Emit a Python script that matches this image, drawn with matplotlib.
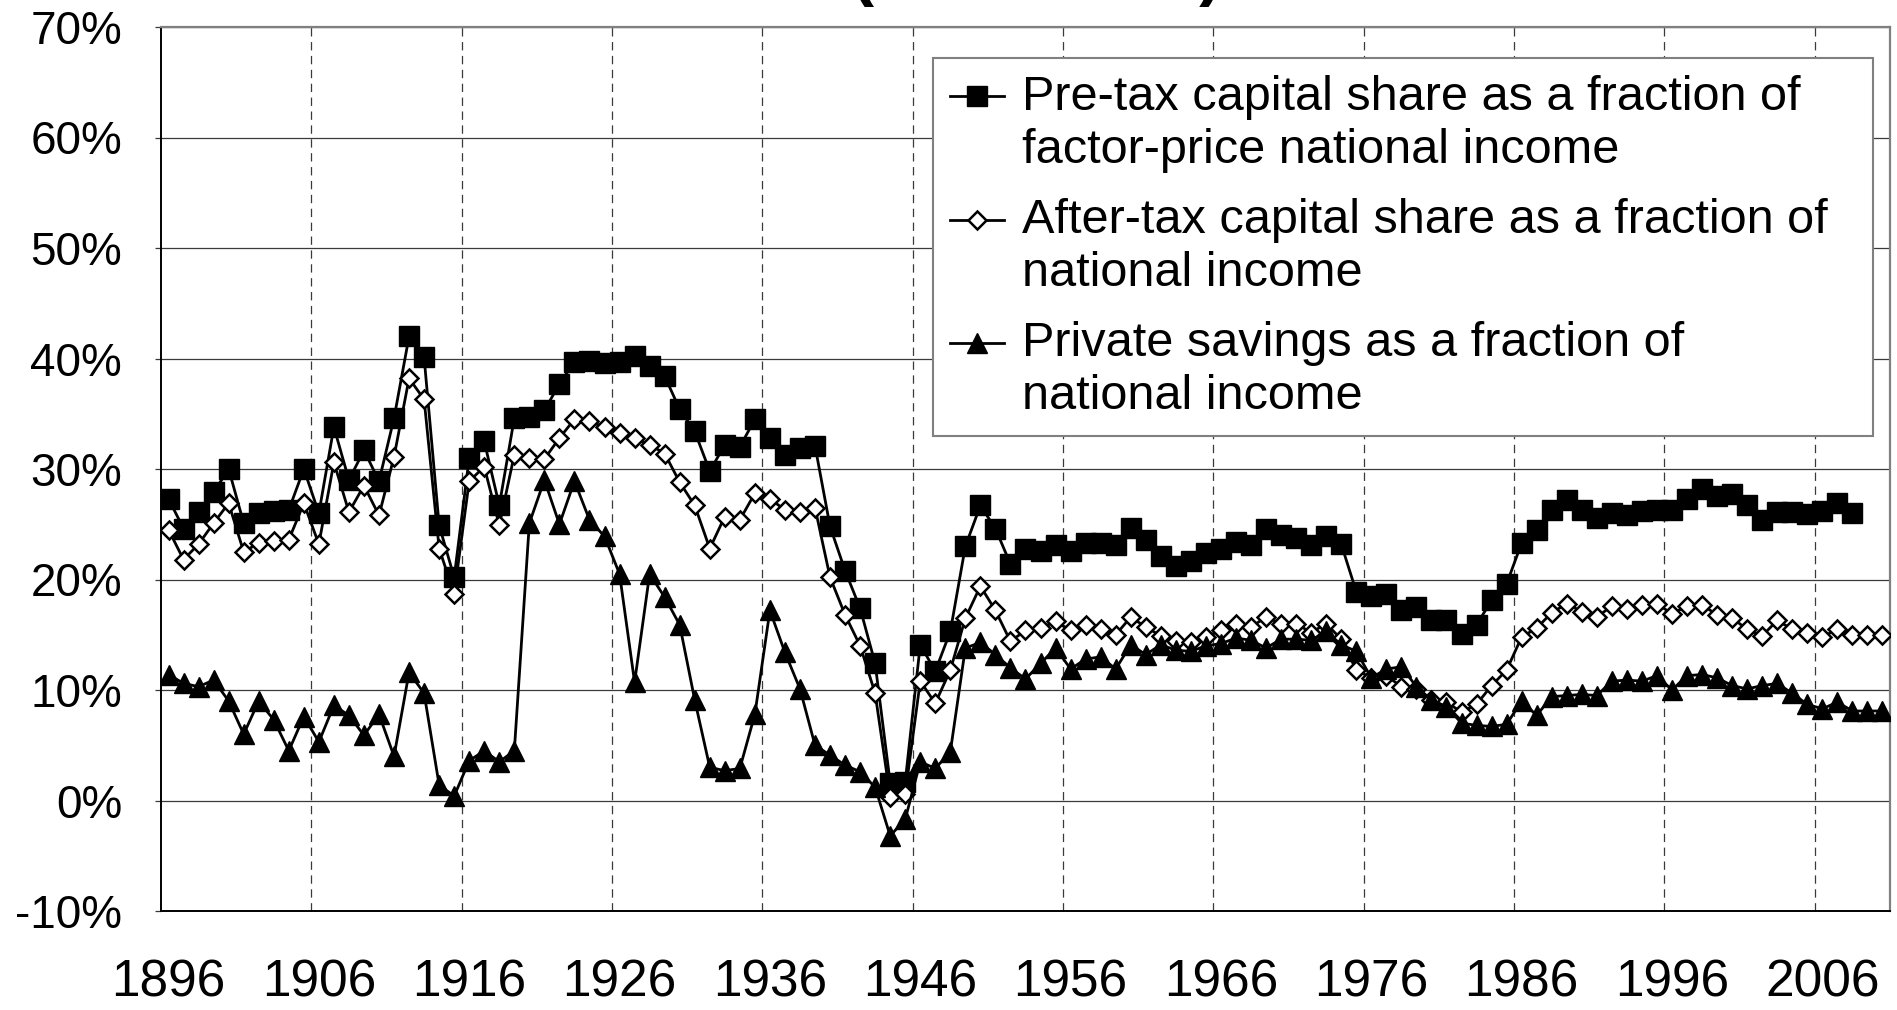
import numpy as np
import matplotlib
matplotlib.use("Agg")
import matplotlib.pyplot as plt
from matplotlib.legend_handler import HandlerLine2D

plt.rcParams['font.family'] = ['Liberation Sans', 'DejaVu Sans']
plt.rcParams['lines.scale_dashes'] = False

# ---------------- data ----------------
years_pretax = list(range(1896, 2009))
years_all = list(range(1896, 2011))

pretax = [27.3, 24.6, 26.1, 27.9, 30.0, 25.1, 26.0, 26.2, 26.3, 30.0,
          26.0, 33.8, 29.0, 31.7, 28.9, 34.6, 42.0, 40.1, 24.9, 20.2,
          31.0, 32.5, 26.7, 34.6, 34.7, 35.3, 37.7, 39.7, 39.8, 39.6,
          39.7, 40.2, 39.3, 38.4, 35.4, 33.4, 29.8, 32.2, 32.0, 34.5,
          32.8, 31.3, 31.9, 32.1, 24.8, 20.8, 17.4, 12.4, 1.6, 1.7,
          14.1, 11.7, 15.3, 23.0, 26.7, 24.6, 21.4, 22.8, 22.6, 23.1,
          22.6, 23.3, 23.3, 23.1, 24.7, 23.6, 22.1, 21.2, 21.7, 22.4,
          22.8, 23.4, 23.1, 24.6, 24.0, 23.8, 23.1, 23.9, 23.2, 18.9,
          18.5, 18.7, 17.2, 17.5, 16.3, 16.3, 15.1, 15.9, 18.1, 19.6,
          23.3, 24.5, 26.3, 27.2, 26.3, 25.6, 26.0, 25.8, 26.2, 26.3,
          26.3, 27.3, 28.2, 27.6, 27.7, 26.7, 25.4, 26.1, 26.1, 25.9,
          26.2, 26.9, 26.0]

aftertax = [24.5, 21.8, 23.2, 25.1, 26.9, 22.5, 23.3, 23.5, 23.6, 26.9,
            23.2, 30.6, 26.1, 28.5, 25.8, 31.1, 38.2, 36.3, 22.8, 18.7,
            28.9, 30.2, 24.9, 31.3, 31.0, 30.9, 32.8, 34.5, 34.3, 33.8,
            33.3, 32.8, 32.2, 31.4, 28.8, 26.7, 22.8, 25.7, 25.4, 27.8,
            27.3, 26.3, 26.1, 26.5, 20.2, 16.8, 14.0, 9.7, 0.3, 0.6,
            10.8, 8.8, 11.8, 16.5, 19.4, 17.2, 14.4, 15.4, 15.6, 16.2,
            15.4, 15.9, 15.5, 15.0, 16.6, 15.7, 14.9, 14.4, 14.3, 14.8,
            15.4, 16.0, 15.7, 16.6, 16.0, 16.0, 15.2, 16.0, 14.6, 11.8,
            11.1, 11.3, 10.3, 10.1, 9.1, 8.9, 8.0, 8.7, 10.4, 11.8,
            14.8, 15.6, 17.0, 17.8, 17.1, 16.6, 17.6, 17.3, 17.7, 17.8,
            16.9, 17.6, 17.7, 16.8, 16.5, 15.5, 14.9, 16.3, 15.5, 15.2,
            14.8, 15.5, 15.0, 15.0, 15.0]

savings = [11.4, 10.6, 10.3, 10.9, 9.0, 6.0, 9.0, 7.3, 4.5, 7.6,
           5.3, 8.6, 7.7, 5.9, 7.8, 4.0, 11.6, 9.7, 1.4, 0.4,
           3.6, 4.5, 3.5, 4.5, 25.1, 29.0, 25.0, 28.9, 25.4, 23.9,
           20.5, 10.7, 20.5, 18.4, 15.9, 9.1, 3.0, 2.7, 2.9, 7.8,
           17.2, 13.4, 10.1, 5.0, 4.1, 3.2, 2.6, 1.2, -3.2, -1.7,
           3.5, 2.9, 4.4, 13.8, 14.3, 13.2, 12.0, 11.0, 12.4, 13.8,
           11.9, 12.8, 13.0, 11.9, 14.1, 13.2, 14.1, 13.6, 13.5, 14.0,
           14.2, 14.7, 14.5, 13.8, 14.6, 14.6, 14.5, 15.3, 14.1, 13.5,
           11.1, 11.9, 12.1, 10.3, 9.1, 8.5, 7.0, 6.8, 6.7, 6.9,
           9.0, 7.7, 9.4, 9.5, 9.6, 9.5, 10.8, 10.9, 10.8, 11.3,
           10.0, 11.3, 11.4, 11.1, 10.4, 10.1, 10.4, 10.6, 9.7, 8.7,
           8.3, 8.9, 8.1, 8.1, 8.1]

xtick_years = list(range(1896, 2007, 10))
ytick_vals = list(range(-10, 71, 10))

labels = ["Pre-tax capital share as a fraction of\nfactor-price national income",
          "After-tax capital share as a fraction of\nnational income",
          "Private savings as a fraction of\nnational income"]
title = "Factor shares in France (1896-2010)"

# ---------------- figure ----------------
W, H = 1897, 1010
fig = plt.figure(figsize=(W / 100, H / 100), dpi=100)
L, R, T, B = 161, 1890, 27, 911
ax = fig.add_axes([L / W, 1 - B / H, (R - L) / W, (B - T) / H])

lw = 2.0
l1, = ax.plot(years_pretax, pretax, color='black', lw=lw, marker='s', ms=14,
              mfc='black', mec='black', mew=1.0, zorder=3)
l2, = ax.plot(years_all, aftertax, color='black', lw=lw, marker='D', ms=9.4,
              mfc='white', mec='black', mew=1.8, zorder=4)
l3, = ax.plot(years_all, savings, color='black', lw=lw, marker='^', ms=15,
              mfc='black', mec='black', mew=1.0, zorder=5)

ax.set_xlim(1895.5, 2010.5)
ax.set_ylim(-10, 70)
ax.set_yticks(ytick_vals)
ax.set_yticklabels([f"{v}%" for v in ytick_vals])
ax.set_xticks(xtick_years)
ax.set_xticklabels([str(y) for y in xtick_years])
ax.set_xticks(np.arange(1905.5, 2006, 10), minor=True)

ax.grid(axis='y', which='major', color='#3a3a3a', lw=0.9, zorder=1)
ax.grid(axis='x', which='minor', color='#3a3a3a', lw=0.9, ls=(0, (6, 4)), zorder=1)
ax.grid(axis='x', which='major', visible=False)
ax.set_axisbelow(True)

ax.tick_params(axis='x', which='both', length=0, labelsize=37, pad=34)
ax.tick_params(axis='y', which='major', length=4, width=0.9, color='#3a3a3a',
               direction='out', labelsize=33, pad=24)
ax.tick_params(axis='y', which='minor', length=0)

for s in ['left', 'bottom']:
    ax.spines[s].set_color('black')
    ax.spines[s].set_linewidth(1.4)
for s in ['top', 'right']:
    ax.spines[s].set_color('#808080')
    ax.spines[s].set_linewidth(1.6)

# title: lies above the canvas, only the lowest few pixels show (as in the reference)
fig.text(1222 / W, (H - 7) / H, title, ha='right', va='bottom',
         fontsize=49, fontweight='bold')

# legend
fs = 35
lsp = 1.23
pitch_pt = 52.5 * 0.72


class FirstLineHandler(HandlerLine2D):
    def __init__(self, shift, **kw):
        super().__init__(**kw)
        self.shift = shift

    def create_artists(self, legend, orig_handle, xdescent, ydescent, width,
                       height, fontsize, trans):
        arts = super().create_artists(legend, orig_handle, xdescent, ydescent,
                                      width, height, fontsize, trans)
        for a in arts:
            a.set_ydata(np.asarray(a.get_ydata(), dtype=float) + self.shift)
        return arts


hmap = {h: FirstLineHandler(0.5 * pitch_pt + 1.0) for h in (l1, l2, l3)}
leg = ax.legend([l1, l2, l3], labels, loc='upper left', mode='expand',
                bbox_to_anchor=(933 / W, 1 - 430 / H, 940 / W, 372 / H),
                bbox_transform=fig.transFigure, fontsize=fs, frameon=True,
                fancybox=False, shadow=False, edgecolor='#808080',
                framealpha=1, borderpad=0.34, handlelength=1.12,
                handletextpad=0.37, labelspacing=0.52, borderaxespad=0,
                handler_map=hmap)
leg.get_frame().set_linewidth(1.5)
for t in leg.get_texts():
    t.set_linespacing(lsp)

fig.savefig("out.png", dpi=100)
